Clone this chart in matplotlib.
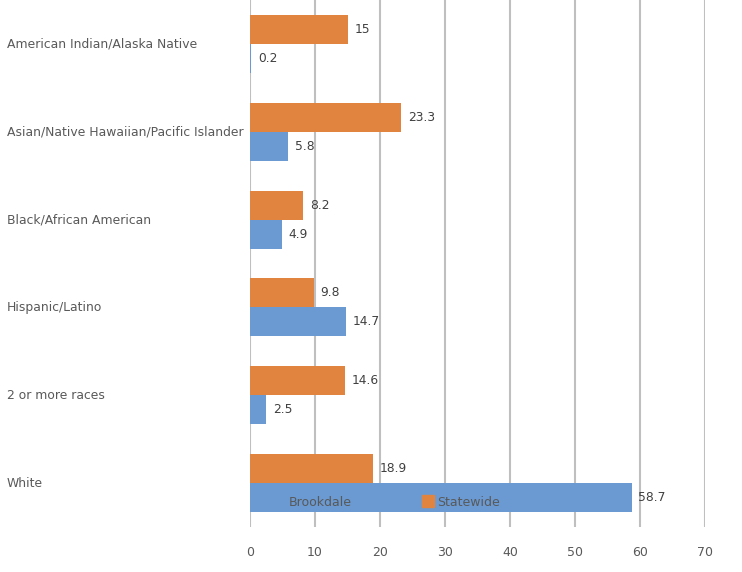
import matplotlib.pyplot as plt
import numpy as np
from matplotlib.lines import Line2D

categories = ["American Indian/Alaska Native",
              "Asian/Native Hawaiian/Pacific Islander",
              "Black/African American",
              "Hispanic/Latino",
              "2 or more races",
              "White"]
statewide = [15, 23.3, 8.2, 9.8, 14.6, 18.9]
brookdale = [0.2, 5.8, 4.9, 14.7, 2.5, 58.7]
xticks = [0, 10, 20, 30, 40, 50, 60, 70]

blue = '#6A9AD1'
orange = '#E0843F'
text_c = '#595959'

fig = plt.figure(figsize=(7.42, 5.72), dpi=100)
ax = fig.add_axes([250 / 742, 45 / 572, 455 / 742, 527 / 572])

y = np.arange(len(categories))
h = 0.33
ax.barh(y - h / 2, statewide, height=h, color=orange, zorder=3)
ax.barh(y + h / 2, brookdale, height=h, color=blue, zorder=3)

# value labels
for yi, v in zip(y, statewide):
    ax.annotate(f"{v:g}", (v, yi - h / 2), xytext=(5, 0), textcoords='offset points',
                va='center', ha='left', fontsize=8.8, color='#404040', zorder=4)
for yi, v in zip(y, brookdale):
    ax.annotate(f"{v:g}", (v, yi + h / 2), xytext=(5, 0), textcoords='offset points',
                va='center', ha='left', fontsize=8.8, color='#404040', zorder=4)

ax.set_xlim(0, 70)
ax.set_ylim(len(categories) - 0.5, -0.5)
ax.set_xticks(xticks)
ax.set_xticklabels([str(t) for t in xticks], color=text_c, fontsize=9)
ax.tick_params(axis='x', length=0, pad=14)
ax.set_yticks([])
ax.grid(axis='x', color='#BFBFBF', linewidth=1.5, zorder=0)
for s in ax.spines.values():
    s.set_visible(False)

# category labels, left aligned at figure edge
trans = ax.get_yaxis_transform()
for yi, c in zip(y, categories):
    ax.text(-243 / 455, yi, c, transform=trans, ha='left', va='center',
            fontsize=8.9, color=text_c)

handles = [Line2D([], [], marker='s', linestyle='none', markersize=8, color=blue),
           Line2D([], [], marker='s', linestyle='none', markersize=8, color=orange)]
ax.legend(handles, ["Brookdale", "Statewide"], ncol=2, frameon=False,
          loc='center', bbox_to_anchor=(0.30, 0.047), fontsize=9,
          labelcolor=text_c, handletextpad=0.2, columnspacing=5.6,
          handlelength=1.0)

fig.savefig('out.png', dpi=100)
